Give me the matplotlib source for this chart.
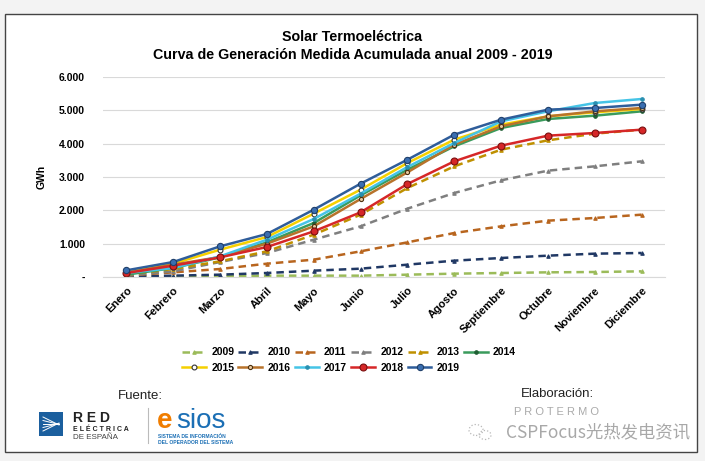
import matplotlib.pyplot as plt
from matplotlib.patches import Rectangle, Ellipse
from matplotlib.lines import Line2D

# # # # # # # # # # # #    DATA    # # # # # # # # # # # #

meses = ['Enero', 'Febrero', 'Marzo', 'Abril', 'Mayo', 'Junio', 'Julio',
         'Agosto', 'Septiembre', 'Octubre', 'Noviembre', 'Diciembre']

g2009 = [10, 20, 20, 40, 40, 40, 70, 100, 120, 140, 150, 170]
g2010 = [20, 40, 70, 120, 190, 250, 370, 490, 570, 640, 700, 720]
g2011 = [40, 140, 240, 400, 520, 770, 1040, 1320, 1520, 1690, 1770, 1870]
g2012 = [40, 170, 450, 720, 1120, 1520, 2050, 2520, 2900, 3190, 3320, 3470]
g2013 = [70, 240, 470, 770, 1270, 1870, 2670, 3320, 3820, 4100, 4300, 4420]
g2014 = [70, 270, 590, 1040, 1620, 2450, 3220, 3920, 4470, 4740, 4840, 4970]
g2015 = [150, 400, 820, 1200, 1900, 2620, 3420, 4120, 4570, 4820, 4940, 5040]
g2016 = [120, 370, 600, 1000, 1520, 2340, 3140, 3970, 4520, 4820, 4970, 5070]
g2017 = [120, 270, 620, 1120, 1740, 2500, 3300, 4020, 4670, 4970, 5220, 5340]
g2018 = [120, 340, 590, 900, 1370, 1940, 2790, 3470, 3940, 4240, 4320, 4420]
g2019 = [200, 450, 920, 1290, 2020, 2800, 3520, 4270, 4720, 5020, 5070, 5170]

years = ['2009', '2010', '2011', '2012', '2013', '2014',
         '2015', '2016', '2017', '2018', '2019']
series = [g2009, g2010, g2011, g2012, g2013, g2014,
          g2015, g2016, g2017, g2018, g2019]

yticks = [0, 1000, 2000, 3000, 4000, 5000, 6000]
ylabels = ['-', '1.000', '2.000', '3.000', '4.000', '5.000', '6.000']

# style per year: colour, linestyle, marker, markersize, markerface, markeredge
styles = {
    '2009': ('#9bbb59', '--', '^', 2.5, '#9bbb59', '#9bbb59'),
    '2010': ('#203864', '--', '^', 2.5, '#203864', '#203864'),
    '2011': ('#b8651e', '--', '^', 2.5, '#b8651e', '#b8651e'),
    '2012': ('#7f7f7f', '--', '^', 2.5, '#7f7f7f', '#7f7f7f'),
    '2013': ('#bf9000', '--', '^', 2.5, '#bf9000', '#bf9000'),
    '2014': ('#3a9b5c', '-', 'o', 2.5, '#1e5e33', '#1e5e33'),
    '2015': ('#f5d000', '-', 'o', 3.5, 'white', '#333333'),
    '2016': ('#b8732b', '-', 'o', 3, '#e8c9a0', '#4a3010'),
    '2017': ('#45c4e6', '-', 'o', 2.5, '#2a8fb0', '#2a8fb0'),
    '2018': ('#d62728', '-', 'o', 5, '#d62728', '#7a1010'),
    '2019': ('#2f5d9a', '-', 'o', 4.5, '#3a6eb0', '#1f3f6a'),
}

# # # # # # # # # # # #    FIGURE    # # # # # # # # # # # #

plt.rcParams['font.family'] = ['Liberation Sans', 'DejaVu Sans']
fig = plt.figure(figsize=(7.05, 4.61), dpi=100)
fig.patch.set_facecolor('#f3f3f3')


def fx(px):
    return px / 705


def fy(py):
    return 1 - py / 461


# white frame (behind everything)
frame = Rectangle((fx(5), fy(452)), 692 / 705, 438 / 461,
                  transform=fig.transFigure, facecolor='white',
                  edgecolor='#444444', linewidth=1.0, zorder=-10)
fig.patches.append(frame)

ax = fig.add_axes([fx(103), fy(277), 562 / 705, 200 / 461])
ax.set_facecolor('none')
ax.set_zorder(2)

x = list(range(len(meses)))
handles = {}
for yr, vals in zip(years, series):
    c, ls, mk, ms, mfc, mec = styles[yr]
    ln, = ax.plot(x, vals, color=c, linestyle=ls, linewidth=1.8,
                  marker=mk, markersize=ms, markerfacecolor=mfc,
                  markeredgecolor=mec, markeredgewidth=0.8, label=yr)
    if ls == '--':
        ln.set_dashes((3, 2))
    handles[yr] = ln

ax.set_xlim(-0.5, 11.5)
ax.set_ylim(0, 6000)
ax.set_yticks(yticks)
ax.set_yticklabels(ylabels, fontsize=7.5, fontweight='bold')
ax.set_xticks(x)
ax.set_xticklabels(meses, rotation=45, ha='right', rotation_mode='anchor',
                   fontsize=8, fontweight='bold')
ax.tick_params(axis='x', length=0, pad=6)
ax.tick_params(axis='y', length=0, pad=13)
ax.grid(axis='y', color='#d9d9d9', linewidth=0.8)
ax.set_axisbelow(True)
for s in ['top', 'right', 'left']:
    ax.spines[s].set_visible(False)
ax.spines['bottom'].set_color('#d9d9d9')
ax.set_ylabel('GWh', fontsize=7.5, fontweight='bold')
ax.yaxis.set_label_coords((47 - 103) / 562, 0.5)

# title
fig.text(0.5, fy(37), 'Solar Termoeléctrica', ha='center', va='center',
         fontsize=10.3, fontweight='bold')
fig.text(0.5, fy(55), 'Curva de Generación Medida Acumulada anual 2009 - 2019',
         ha='center', va='center', fontsize=10.3, fontweight='bold')

# legend (row-major order for 6 columns)
order = ['2009', '2015', '2010', '2016', '2011', '2017',
         '2012', '2018', '2013', '2019', '2014']
leg = fig.legend([handles[k] for k in order], order, ncol=6,
                 loc='center', bbox_to_anchor=(fx(349), fy(360)),
                 frameon=False, prop={'size': 7.5, 'weight': 'bold'},
                 handlelength=2.3, handletextpad=0.5, columnspacing=0.4,
                 labelspacing=0.5)

# # # # # # # # # # # #    FOOTER    # # # # # # # # # # # #

fig.text(fx(140), fy(396), 'Fuente:', ha='center', va='center',
         fontsize=9.5, color='#222222')
# Red Electrica logo
fig.patches.append(Rectangle((fx(39), fy(436)), 24 / 705, 24 / 461,
                             transform=fig.transFigure, facecolor='#1b5f9e',
                             edgecolor='none'))
for k in range(5):
    fig.lines.append(Line2D([fx(43), fx(59)],
                            [fy(417 + k * 3.5), fy(425 - k * 0.5)],
                            transform=fig.transFigure, color='white', lw=0.7))
fig.text(fx(73), fy(418), 'R E D', fontsize=10, fontweight='bold',
         color='#222222', va='center')
fig.text(fx(73), fy(429), 'E L É C T R I C A', fontsize=5, fontweight='bold',
         color='#222222', va='center')
fig.text(fx(73), fy(437), 'DE ESPAÑA', fontsize=5.8, color='#444444',
         va='center')
fig.lines.append(Line2D([fx(148), fx(148)], [fy(443), fy(408)],
                        transform=fig.transFigure, color='#bbbbbb', lw=0.8))
# esios logo
fig.text(fx(157), fy(421), 'e', fontsize=20, fontweight='bold',
         color='#f07d00', va='center')
fig.text(fx(176), fy(421), 'sios', fontsize=20, color='#1b6fb5',
         va='center')
fig.text(fx(158), fy(436), 'SISTEMA DE INFORMACIÓN', fontsize=3.6,
         fontweight='bold', color='#1b6fb5', va='center')
fig.text(fx(158), fy(442), 'DEL OPERADOR DEL SISTEMA', fontsize=3.6,
         fontweight='bold', color='#1b6fb5', va='center')

fig.text(fx(557), fy(394), 'Elaboración:', ha='center', va='center',
         fontsize=9.5, color='#222222')
fig.text(fx(557), fy(412), 'P R O T E R M O', ha='center', va='center',
         fontsize=8, color='#aaaaaa')
# wechat-like watermark icon
for cx, cy, w, h in [(476, 430, 14, 11), (485, 435, 12, 9)]:
    fig.patches.append(Ellipse((fx(cx), fy(cy)), w / 705, h / 461,
                               transform=fig.transFigure, facecolor='none',
                               edgecolor='#b8b8b8', lw=0.9, linestyle=':'))
fig.text(fx(690), fy(432), 'CSPFocus光热发电资讯', ha='right',
         va='center', fontsize=12.5, color='#a8a8a8',
         family=['Noto Sans CJK SC', 'DejaVu Sans'])

fig.savefig('out.png', dpi=100, facecolor=fig.get_facecolor())
